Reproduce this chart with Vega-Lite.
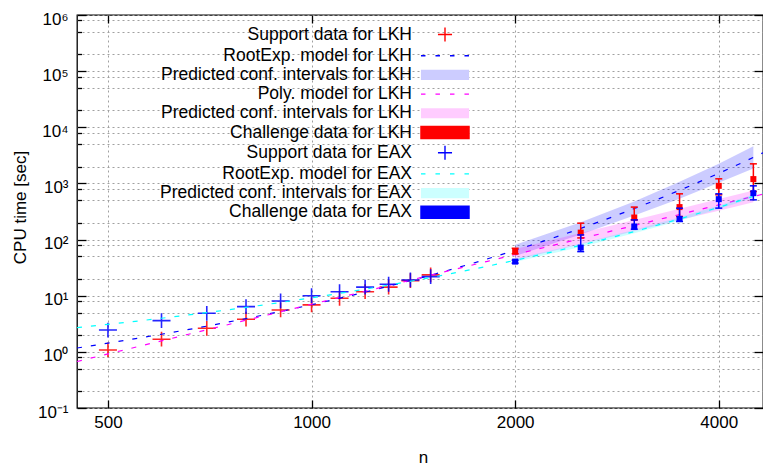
{
  "$schema": "https://vega.github.io/schema/vega-lite/v6.json",
  "width": 686,
  "height": 393,
  "autosize": {"type": "none"},
  "padding": {"left": 77, "top": 15, "right": 0, "bottom": 62},
  "background": "white",
  "config": {
    "font": "Liberation Sans",
    "view": {"stroke": "#000000", "strokeWidth": 1.3},
    "axis": {
      "labelFont": "Liberation Sans", "titleFont": "Liberation Sans",
      "labelColor": "#000000", "titleColor": "#000000", "tickColor": "#000000",
      "labelFontSize": 17, "titleFontSize": 17, "titleFontWeight": "normal",
      "domain": false, "tickWidth": 1.3, "labelFlush": false, "labelOverlap": false,
      "gridColor": "#a0a0a0", "gridDash": [2, 3], "gridWidth": 1
    },
    "legend": {
      "orient": "none", "legendX": 357.5, "legendY": 9, "direction": "vertical",
      "padding": 0, "symbolSize": 361, "symbolOffset": 0, "symbolStrokeWidth": 1.4,
      "symbolFillColor": "#ffffff", "symbolStrokeColor": "#000000",
      "labelAlign": "right", "labelOffset": -43.5, "labelFont": "Liberation Sans",
      "labelFontSize": 17.5, "labelColor": "#000000", "labelLimit": 400, "rowPadding": 0.2
    }
  },
  "datasets": {
    "models": [
      {"n": 450, "re_lkh": 1.17, "poly_lkh": 0.673, "re_eax": 2.70},
      {"n": 500, "re_lkh": 1.43, "poly_lkh": 0.918, "re_eax": 3.09},
      {"n": 600, "re_lkh": 2.06, "poly_lkh": 1.57, "re_eax": 3.97},
      {"n": 700, "re_lkh": 2.87, "poly_lkh": 2.47, "re_eax": 5.00},
      {"n": 800, "re_lkh": 3.92, "poly_lkh": 3.66, "re_eax": 6.20},
      {"n": 1000, "re_lkh": 6.92, "poly_lkh": 7.05, "re_eax": 9.18},
      {"n": 1200, "re_lkh": 11.6, "poly_lkh": 12.0, "re_eax": 13.1},
      {"n": 1500, "re_lkh": 23.2, "poly_lkh": 23.2, "re_eax": 21.1},
      {"n": 2000, "re_lkh": 64.4, "poly_lkh": 54.1, "re_eax": 42.8},
      {"n": 2500, "re_lkh": 158, "poly_lkh": 104, "re_eax": 79.4},
      {"n": 3000, "re_lkh": 357, "poly_lkh": 178, "re_eax": 139},
      {"n": 3500, "re_lkh": 755, "poly_lkh": 280, "re_eax": 233},
      {"n": 4000, "re_lkh": 1514, "poly_lkh": 415, "re_eax": 376},
      {"n": 4500, "re_lkh": 2911, "poly_lkh": 586, "re_eax": 590},
      {"n": 4650, "re_lkh": 3516, "poly_lkh": 644, "re_eax": 673}
    ],
    "bands": [
      {"model": "lkh_re", "n": 2000, "lo": 51.2, "hi": 81.1},
      {"model": "lkh_re", "n": 2500, "lo": 122.6, "hi": 203.6},
      {"model": "lkh_re", "n": 3000, "lo": 268, "hi": 476},
      {"model": "lkh_re", "n": 3500, "lo": 535, "hi": 1066},
      {"model": "lkh_re", "n": 4000, "lo": 1024, "hi": 2239},
      {"model": "lkh_re", "n": 4500, "lo": 1837, "hi": 4614},
      {"model": "lkh_poly", "n": 2000, "lo": 43.0, "hi": 68.1},
      {"model": "lkh_poly", "n": 2500, "lo": 82.6, "hi": 130.9},
      {"model": "lkh_poly", "n": 3000, "lo": 141.4, "hi": 224.1},
      {"model": "lkh_poly", "n": 3500, "lo": 222.4, "hi": 352.5},
      {"model": "lkh_poly", "n": 4000, "lo": 326, "hi": 529},
      {"model": "lkh_poly", "n": 4500, "lo": 460, "hi": 747},
      {"model": "eax_re", "n": 2000, "lo": 40, "hi": 45.8},
      {"model": "eax_re", "n": 2500, "lo": 74.1, "hi": 85.1},
      {"model": "eax_re", "n": 3000, "lo": 129.7, "hi": 149},
      {"model": "eax_re", "n": 3500, "lo": 217, "hi": 250},
      {"model": "eax_re", "n": 4000, "lo": 351, "hi": 403},
      {"model": "eax_re", "n": 4500, "lo": 550, "hi": 632}
    ],
    "support": [
      {"n": 500, "lkh": 1.08, "eax": 2.45},
      {"n": 600, "lkh": 1.68, "eax": 3.6},
      {"n": 700, "lkh": 2.63, "eax": 4.87},
      {"n": 800, "lkh": 3.81, "eax": 6.4},
      {"n": 900, "lkh": 5.58, "eax": 8.07},
      {"n": 1000, "lkh": 6.86, "eax": 10.0},
      {"n": 1100, "lkh": 9.0, "eax": 11.8},
      {"n": 1200, "lkh": 11.8, "eax": 14.2},
      {"n": 1300, "lkh": 14.2, "eax": 16.0},
      {"n": 1400, "lkh": 18.6, "eax": 19.1},
      {"n": 1500, "lkh": 23.5, "eax": 21.9}
    ],
    "challenge": [
      {"n": 2000, "lkh": 61, "lkh_lo": 56, "lkh_hi": 70, "eax": 40.5, "eax_lo": 38, "eax_hi": 43},
      {"n": 2500, "lkh": 133, "lkh_lo": 107, "lkh_hi": 196, "eax": 72, "eax_lo": 61, "eax_hi": 121},
      {"n": 3000, "lkh": 247, "lkh_lo": 224, "lkh_hi": 379, "eax": 171, "eax_lo": 153, "eax_hi": 224},
      {"n": 3500, "lkh": 379, "lkh_lo": 257, "lkh_hi": 653, "eax": 234, "eax_lo": 210, "eax_hi": 363},
      {"n": 4000, "lkh": 906, "lkh_lo": 627, "lkh_hi": 1208, "eax": 525, "eax_lo": 363, "eax_hi": 653},
      {"n": 4500, "lkh": 1195, "lkh_lo": 718, "lkh_hi": 2233, "eax": 671, "eax_lo": 510, "eax_hi": 906}
    ],
    "legend": [
      {"key": "lkh_sup"}, {"key": "lkh_re"}, {"key": "lkh_re_ci"}, {"key": "lkh_poly"}, {"key": "lkh_poly_ci"},
      {"key": "lkh_ch"}, {"key": "eax_sup"}, {"key": "eax_re"}, {"key": "eax_re_ci"}, {"key": "eax_ch"}
    ]
  },
  "layer": [
    {
      "layer": [
        {
          "data": {"name": "support"},
          "mark": {"type": "point", "shape": "M-1,0H1M0,-0.82V0.82", "size": 324, "filled": false, "stroke": "#ff0000", "strokeWidth": 1.6, "opacity": 0.85, "clip": true},
          "encoding": {
            "x": {"field": "n", "type": "quantitative", "scale": {"type": "log", "domain": [450, 4650], "nice": false},
              "axis": {"orient": "bottom", "values": [500, 1000, 2000, 4000], "format": "d", "grid": true, "tickSize": -8,
                "labelPadding": 14.8, "labelBaseline": "top", "title": "n", "titleX": 346, "titleY": 54.5,
                "titleAlign": "center", "titleBaseline": "alphabetic", "titleAngle": 0}},
            "y": {"field": "lkh", "type": "quantitative", "scale": {"type": "log", "domain": [0.1, 1000000], "nice": false},
              "axis": {"orient": "left",
                "values": [0.1, 0.2, 0.5, 0.8, 1, 2, 5, 8, 10, 20, 50, 80, 100, 200, 500, 800, 1000, 2000, 5000, 8000, 10000, 20000, 50000, 80000, 100000, 200000, 500000, 800000, 1000000],
                "labelExpr": "abs(log(datum.value)/LN10 - round(log(datum.value)/LN10)) < 0.001 ? '10' + ['⁻¹','⁰','¹','²','³','⁴','⁵','⁶'][round(log(datum.value)/LN10) + 1] : ''",
                "grid": true,
                "tickSize": {"condition": {"test": "abs(log(datum.value)/LN10 - round(log(datum.value)/LN10)) < 0.001", "value": -9}, "value": -4.5},
                "labelPadding": 18, "labelOffset": 4,
                "title": "CPU time [sec]", "titleX": -52, "titleY": 192, "titleAngle": 270,
                "titleAlign": "center", "titleBaseline": "alphabetic"}}
          }
        },
        {
          "data": {"name": "models"},
          "mark": {"type": "line", "color": "#0000ff", "strokeWidth": 1.2, "strokeDash": [5, 9], "interpolate": "monotone", "clip": true},
          "encoding": {"x": {"field": "n", "type": "quantitative"}, "y": {"field": "re_lkh", "type": "quantitative"}}
        },
        {
          "data": {"name": "bands"},
          "transform": [{"filter": "datum.model == 'lkh_re'"}],
          "mark": {"type": "area", "color": "#0000ff", "opacity": 0.2, "clip": true},
          "encoding": {"x": {"field": "n", "type": "quantitative"}, "y": {"field": "lo", "type": "quantitative"}, "y2": {"field": "hi"}}
        },
        {
          "data": {"name": "models"},
          "mark": {"type": "line", "color": "#ff00ff", "strokeWidth": 1.2, "strokeDash": [5, 9], "interpolate": "monotone", "clip": true},
          "encoding": {"x": {"field": "n", "type": "quantitative"}, "y": {"field": "poly_lkh", "type": "quantitative"}}
        },
        {
          "data": {"name": "bands"},
          "transform": [{"filter": "datum.model == 'lkh_poly'"}],
          "mark": {"type": "area", "color": "#ff00ff", "opacity": 0.2, "clip": true},
          "encoding": {"x": {"field": "n", "type": "quantitative"}, "y": {"field": "lo", "type": "quantitative"}, "y2": {"field": "hi"}}
        },
        {
          "data": {"name": "challenge"},
          "mark": {"type": "rule", "color": "#ff0000", "strokeWidth": 1.5, "clip": true},
          "encoding": {"x": {"field": "n", "type": "quantitative"}, "y": {"field": "lkh_lo", "type": "quantitative"}, "y2": {"field": "lkh_hi"}}
        },
        {
          "data": {"name": "challenge"},
          "mark": {"type": "point", "shape": "M-1,0H1", "size": 49, "filled": false, "stroke": "#ff0000", "strokeWidth": 1.5, "opacity": 1, "clip": true},
          "encoding": {"x": {"field": "n", "type": "quantitative"}, "y": {"field": "lkh_lo", "type": "quantitative"}}
        },
        {
          "data": {"name": "challenge"},
          "mark": {"type": "point", "shape": "M-1,0H1", "size": 49, "filled": false, "stroke": "#ff0000", "strokeWidth": 1.5, "opacity": 1, "clip": true},
          "encoding": {"x": {"field": "n", "type": "quantitative"}, "y": {"field": "lkh_hi", "type": "quantitative"}}
        },
        {
          "data": {"name": "challenge"},
          "mark": {"type": "point", "shape": "square", "size": 36, "filled": true, "color": "#ff0000", "opacity": 1, "clip": true},
          "encoding": {"x": {"field": "n", "type": "quantitative"}, "y": {"field": "lkh", "type": "quantitative"}}
        },
        {
          "data": {"name": "support"},
          "mark": {"type": "point", "shape": "M-1,0H1M0,-0.82V0.82", "size": 324, "filled": false, "stroke": "#0000ff", "strokeWidth": 1.6, "opacity": 0.85, "clip": true},
          "encoding": {"x": {"field": "n", "type": "quantitative"}, "y": {"field": "eax", "type": "quantitative"}}
        },
        {
          "data": {"name": "models"},
          "mark": {"type": "line", "color": "#00ffff", "strokeWidth": 1.2, "strokeDash": [5, 9], "interpolate": "monotone", "clip": true},
          "encoding": {"x": {"field": "n", "type": "quantitative"}, "y": {"field": "re_eax", "type": "quantitative"}}
        },
        {
          "data": {"name": "bands"},
          "transform": [{"filter": "datum.model == 'eax_re'"}],
          "mark": {"type": "area", "color": "#00ffff", "opacity": 0.2, "clip": true},
          "encoding": {"x": {"field": "n", "type": "quantitative"}, "y": {"field": "lo", "type": "quantitative"}, "y2": {"field": "hi"}}
        },
        {
          "data": {"name": "challenge"},
          "mark": {"type": "rule", "color": "#0000ff", "strokeWidth": 1.5, "clip": true},
          "encoding": {"x": {"field": "n", "type": "quantitative"}, "y": {"field": "eax_lo", "type": "quantitative"}, "y2": {"field": "eax_hi"}}
        },
        {
          "data": {"name": "challenge"},
          "mark": {"type": "point", "shape": "M-1,0H1", "size": 49, "filled": false, "stroke": "#0000ff", "strokeWidth": 1.5, "opacity": 1, "clip": true},
          "encoding": {"x": {"field": "n", "type": "quantitative"}, "y": {"field": "eax_lo", "type": "quantitative"}}
        },
        {
          "data": {"name": "challenge"},
          "mark": {"type": "point", "shape": "M-1,0H1", "size": 49, "filled": false, "stroke": "#0000ff", "strokeWidth": 1.5, "opacity": 1, "clip": true},
          "encoding": {"x": {"field": "n", "type": "quantitative"}, "y": {"field": "eax_hi", "type": "quantitative"}}
        },
        {
          "data": {"name": "challenge"},
          "mark": {"type": "point", "shape": "square", "size": 36, "filled": true, "color": "#0000ff", "opacity": 1, "clip": true},
          "encoding": {"x": {"field": "n", "type": "quantitative"}, "y": {"field": "eax", "type": "quantitative"}}
        }
      ]
    },
    {
      "data": {"name": "legend"},
      "mark": {"type": "point", "opacity": 0, "filled": true},
      "encoding": {
        "x": {"field": "n", "type": "quantitative", "scale": {"type": "log", "domain": [450, 4650], "nice": false},
          "axis": {"orient": "top", "values": [500, 1000, 2000, 4000], "labels": false, "tickSize": -8, "grid": false, "title": null}},
        "y": {"field": "t", "type": "quantitative", "scale": {"type": "log", "domain": [0.1, 1000000], "nice": false},
          "axis": {"orient": "right", "values": [0.1, 1, 10, 100, 1000, 10000, 100000, 1000000], "labels": false, "tickSize": -9, "grid": false, "title": null}},
        "fill": {
          "field": "key", "type": "nominal",
          "scale": {"domain": ["lkh_sup", "lkh_re", "lkh_re_ci", "lkh_poly", "lkh_poly_ci", "lkh_ch", "eax_sup", "eax_re", "eax_re_ci", "eax_ch"],
            "range": ["transparent", "transparent", "#ccccff", "transparent", "#ffccff", "#ff0000", "transparent", "transparent", "#ccffff", "#0000ff"]},
          "legend": {"title": null, "labelExpr": "['Support data for LKH','RootExp. model for LKH','Predicted conf. intervals for LKH','Poly. model for LKH','Predicted conf. intervals for LKH','Challenge data for LKH','Support data for EAX','RootExp. model for EAX','Predicted conf. intervals for EAX','Challenge data for EAX'][indexof(['lkh_sup','lkh_re','lkh_re_ci','lkh_poly','lkh_poly_ci','lkh_ch','eax_sup','eax_re','eax_re_ci','eax_ch'], datum.value)]"}
        },
        "stroke": {
          "field": "key", "type": "nominal",
          "scale": {"domain": ["lkh_sup", "lkh_re", "lkh_re_ci", "lkh_poly", "lkh_poly_ci", "lkh_ch", "eax_sup", "eax_re", "eax_re_ci", "eax_ch"],
            "range": ["#ff0000", "#0000ff", "transparent", "#ff00ff", "transparent", "#ff0000", "#0000ff", "#00ffff", "transparent", "#0000ff"]},
          "legend": {"title": null, "labelExpr": "['Support data for LKH','RootExp. model for LKH','Predicted conf. intervals for LKH','Poly. model for LKH','Predicted conf. intervals for LKH','Challenge data for LKH','Support data for EAX','RootExp. model for EAX','Predicted conf. intervals for EAX','Challenge data for EAX'][indexof(['lkh_sup','lkh_re','lkh_re_ci','lkh_poly','lkh_poly_ci','lkh_ch','eax_sup','eax_re','eax_re_ci','eax_ch'], datum.value)]"}
        },
        "shape": {
          "field": "key", "type": "nominal",
          "scale": {"domain": ["lkh_sup", "lkh_re", "lkh_re_ci", "lkh_poly", "lkh_poly_ci", "lkh_ch", "eax_sup", "eax_re", "eax_re_ci", "eax_ch"],
            "range": ["M-0.74,0H0.74M0,-0.74V0.74", "M-2.53,0H2.53", "M-2.53,-0.53H2.53V0.53H-2.53Z", "M-2.53,0H2.53", "M-2.53,-0.53H2.53V0.53H-2.53Z", "M-2.53,-0.63H2.53V0.63H-2.53Z", "M-0.74,0H0.74M0,-0.74V0.74", "M-2.53,0H2.53", "M-2.53,-0.53H2.53V0.53H-2.53Z", "M-2.53,-0.63H2.53V0.63H-2.53Z"]},
          "legend": {"title": null, "labelExpr": "['Support data for LKH','RootExp. model for LKH','Predicted conf. intervals for LKH','Poly. model for LKH','Predicted conf. intervals for LKH','Challenge data for LKH','Support data for EAX','RootExp. model for EAX','Predicted conf. intervals for EAX','Challenge data for EAX'][indexof(['lkh_sup','lkh_re','lkh_re_ci','lkh_poly','lkh_poly_ci','lkh_ch','eax_sup','eax_re','eax_re_ci','eax_ch'], datum.value)]"}
        },
        "strokeDash": {
          "field": "key", "type": "nominal",
          "scale": {"domain": ["lkh_sup", "lkh_re", "lkh_re_ci", "lkh_poly", "lkh_poly_ci", "lkh_ch", "eax_sup", "eax_re", "eax_re_ci", "eax_ch"],
            "range": [[1, 0], [4.5, 10], [1, 0], [4.5, 10], [1, 0], [1, 0], [1, 0], [4.5, 10], [1, 0], [1, 0]]},
          "legend": {"title": null, "labelExpr": "['Support data for LKH','RootExp. model for LKH','Predicted conf. intervals for LKH','Poly. model for LKH','Predicted conf. intervals for LKH','Challenge data for LKH','Support data for EAX','RootExp. model for EAX','Predicted conf. intervals for EAX','Challenge data for EAX'][indexof(['lkh_sup','lkh_re','lkh_re_ci','lkh_poly','lkh_poly_ci','lkh_ch','eax_sup','eax_re','eax_re_ci','eax_ch'], datum.value)]"}
        }
      }
    }
  ],
  "resolve": {"axis": {"x": "independent", "y": "independent"}}
}
